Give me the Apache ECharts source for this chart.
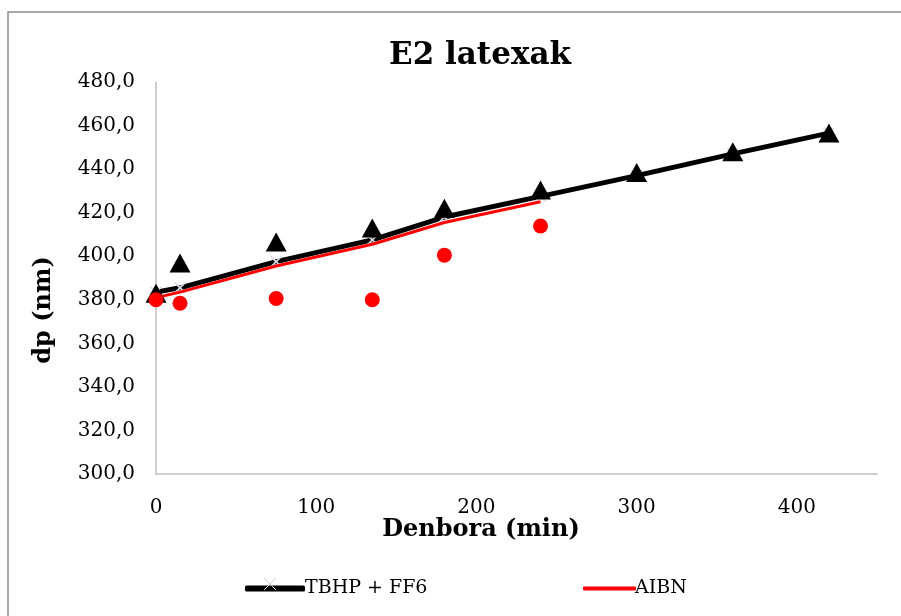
<!DOCTYPE html>
<html>
<head>
<meta charset="utf-8">
<script src="https://cdn.jsdelivr.net/npm/echarts@6/dist/echarts.min.js"></script>
<style>html,body{margin:0;padding:0;background:#fff;}#c{width:901px;height:616px;}</style>
</head>
<body>
<div id="c"></div>
<script>
const tbhpX = [0, 15, 75, 135, 180, 240, 300, 360, 420];
const tbhpMeasured = [383.0, 396.9, 406.5, 413.0, 422.0, 430.4, 438.4, 448.0, 456.6];
const tbhpTrend = [383.5, 385.5, 397.5, 407.5, 418.0, 427.5, 437.0, 447.0, 456.5];
const aibnX = [0, 15, 75, 135, 180, 240];
const aibnMeasured = [380.0, 378.4, 380.6, 380.0, 400.5, 413.9];
const aibnTrend = [381.0, 383.5, 395.5, 405.5, 415.5, 425.0];
const seriesNames = ['TBHP + FF6', 'AIBN'];
const titleText = 'E2 latexak';
const xTitle = 'Denbora (min)';
const yTitle = 'dp (nm)';

const pairs = (xs, ys) => xs.map((x, i) => [x, ys[i]]);
const serif = 'DejaVu Serif';
const crossPath = 'path://M0,1L1,0L5,4L9,0L10,1L6,5L10,9L9,10L5,6L1,10L0,9L4,5Z';

const chart = echarts.init(document.getElementById('c'), null, {renderer: 'canvas'});
chart.setOption({
  backgroundColor: '#fff',
  animation: false,
  graphic: [
    {
      type: 'rect', z: -1, silent: true,
      shape: {x: 8, y: 12, width: 1000, height: 700},
      style: {fill: 'none', stroke: '#8c8c8c', lineWidth: 1.5}
    },
    {
      type: 'text', x: 481, y: 530, z: 10,
      style: {text: xTitle, fontFamily: serif, fontWeight: 'bold', fontSize: 24, fill: '#000',
              textAlign: 'center', textVerticalAlign: 'middle'}
    },
    {
      type: 'text', x: 44, y: 310, rotation: Math.PI / 2, z: 10,
      style: {text: yTitle, fontFamily: serif, fontWeight: 'bold', fontSize: 24, fill: '#000',
              textAlign: 'center', textVerticalAlign: 'middle'}
    },
    {
      type: 'line', z: 100, silent: true,
      shape: {x1: 264, y1: 578, x2: 276, y2: 590},
      style: {stroke: '#d0d0e0', lineWidth: 1}
    },
    {
      type: 'line', z: 100, silent: true,
      shape: {x1: 276, y1: 578, x2: 264, y2: 590},
      style: {stroke: '#d0d0e0', lineWidth: 1}
    }
  ],
  title: {
    text: titleText, left: 384, top: 35,
    textStyle: {fontFamily: serif, fontWeight: 'bold', fontSize: 31, color: '#000'}
  },
  legend: [{
    data: [{name: seriesNames[0], icon: 'roundRect', itemStyle: {color: '#000'}}],
    left: 240, top: 574,
    itemWidth: 60, itemHeight: 6, itemGap: 0,
    textStyle: {fontFamily: serif, fontSize: 19, color: '#000', padding: [0, 0, 0, -5]}
  }, {
    data: [{name: seriesNames[1], icon: 'roundRect', itemStyle: {color: '#ff0000'}}],
    left: 578, top: 574,
    itemWidth: 53, itemHeight: 4,
    textStyle: {fontFamily: serif, fontSize: 19, color: '#000', padding: [0, 0, 0, -6]}
  }],
  grid: {left: 156, right: 24, top: 82, bottom: 142, containLabel: false},
  xAxis: {
    type: 'value', min: 0, max: 450, interval: 100,
    axisLine: {show: true, onZero: false, lineStyle: {color: '#bfbfbf', width: 1.5}},
    axisTick: {show: false},
    splitLine: {show: false},
    axisLabel: {
      fontFamily: serif, fontSize: 20, color: '#000', margin: 24,
      formatter: v => (v <= 400 ? String(v) : '')
    }
  },
  yAxis: {
    type: 'value', min: 300, max: 480, interval: 20,
    axisLine: {show: true, lineStyle: {color: '#bfbfbf', width: 1.5}},
    axisTick: {show: false},
    splitLine: {show: false},
    axisLabel: {
      fontFamily: serif, fontSize: 20, color: '#000', margin: 21,
      formatter: v => v.toFixed(1).replace('.', ',')
    }
  },
  series: [
    {
      name: seriesNames[0], type: 'line', data: pairs(tbhpX, tbhpTrend),
      symbol: crossPath, symbolSize: 12, showSymbol: true,
      itemStyle: {color: '#dcdce8'},
      lineStyle: {color: '#000', width: 5}, z: 1
    },
    {
      name: seriesNames[1], type: 'line', data: pairs(aibnX, aibnTrend),
      symbol: 'none', showSymbol: false,
      itemStyle: {color: '#ff0000'},
      lineStyle: {color: '#ff0000', width: 3}, z: 2
    },
    {
      name: 'TBHP measured', type: 'scatter', data: pairs(tbhpX, tbhpMeasured),
      symbol: 'triangle', symbolSize: [21, 19], itemStyle: {color: '#000', opacity: 1}, z: 3
    },
    {
      name: 'AIBN measured', type: 'scatter', data: pairs(aibnX, aibnMeasured),
      symbol: 'circle', symbolSize: 15, itemStyle: {color: '#ff0000', opacity: 1}, z: 4
    }
  ]
});
</script>
</body>
</html>
